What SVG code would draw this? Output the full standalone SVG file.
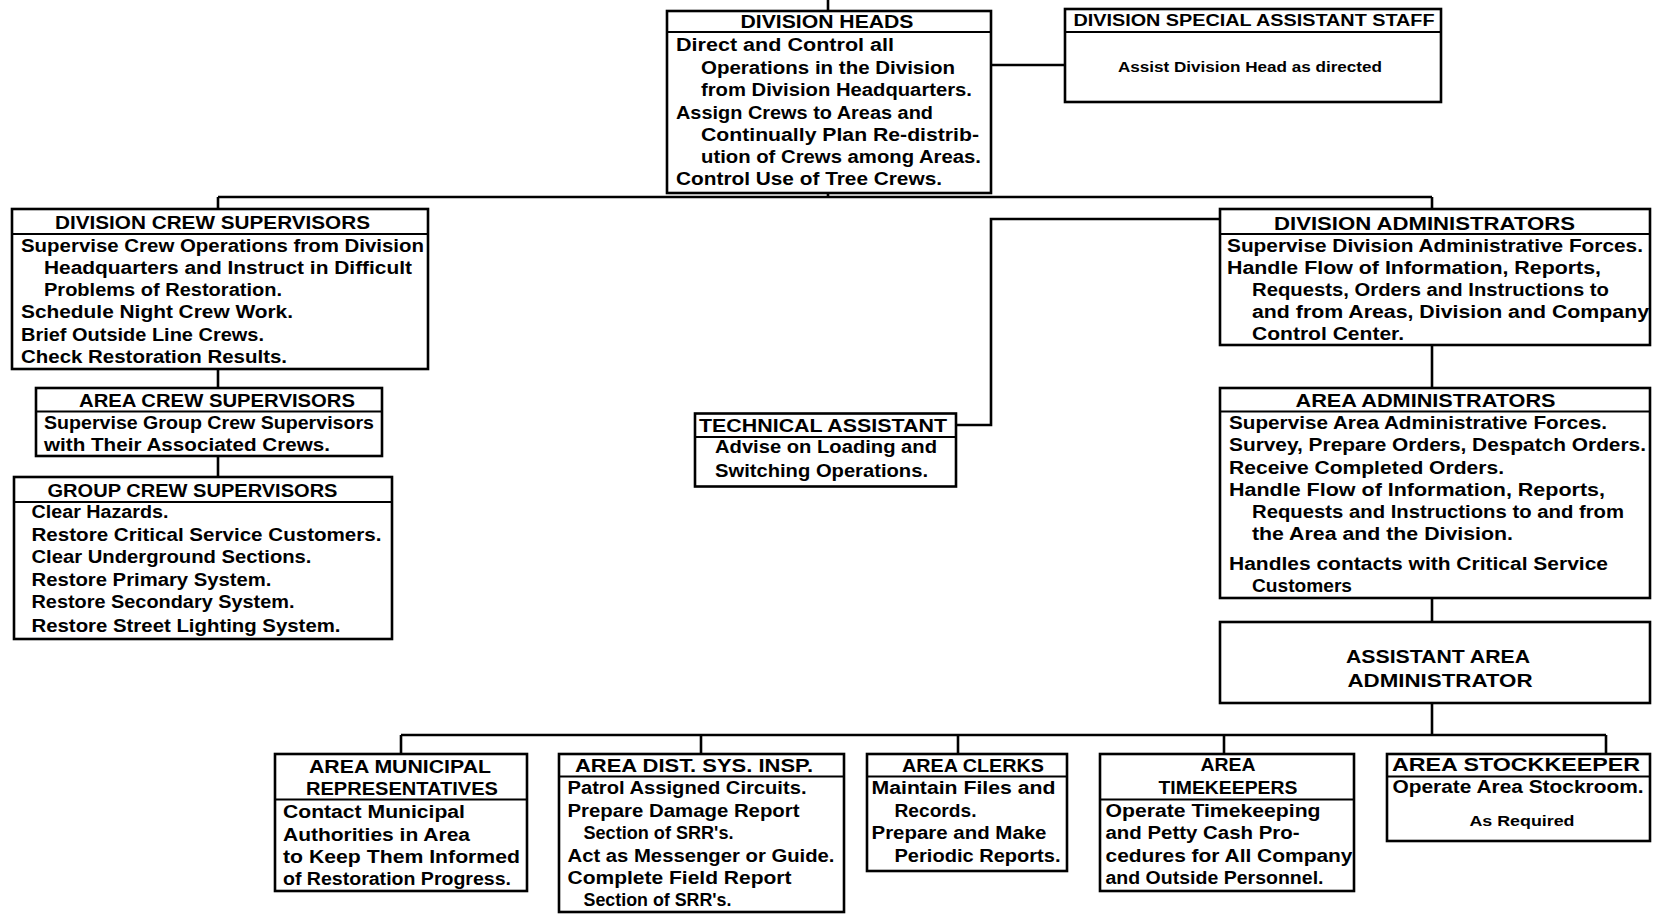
<svg xmlns="http://www.w3.org/2000/svg" width="1654" height="914" viewBox="0 0 1654 914">
  <style>
    .box { fill: #ffffff; stroke: #000000; stroke-width: 2.6; }
    .hd { stroke: #000000; stroke-width: 1.8; }
    .conn { fill: none; stroke: #000000; stroke-width: 2.6; }
    .t { font-family: "Liberation Sans", Arial, sans-serif; font-size: 18px; font-weight: bold; fill: #000000; }
    .ttl { font-family: "Liberation Sans", Arial, sans-serif; font-size: 18px; font-weight: bold; fill: #000000; text-anchor: middle; }
    .hv { font-family: "Liberation Sans", Arial, sans-serif; font-weight: bold; fill: #000000; text-anchor: middle; }
  </style>
  <rect width="1654" height="914" fill="#ffffff"/>

  <!-- connectors -->
  <g id="connectors">
    <path class="conn" d="M828,0 V11"/>
    <path class="conn" d="M991,65 H1065"/>
    <path class="conn" d="M828,193 V197"/>
    <path class="conn" d="M218,197 H1432"/>
    <path class="conn" d="M218,197 V209"/>
    <path class="conn" d="M1432,197 V209"/>
    <path class="conn" d="M218,369 V388"/>
    <path class="conn" d="M218,456 V477"/>
    <path class="conn" d="M1220,219 H991 V425 H956"/>
    <path class="conn" d="M1432,345 V388"/>
    <path class="conn" d="M1432,598 V622"/>
    <path class="conn" d="M1432,703 V735"/>
    <path class="conn" d="M401,735 H1606"/>
    <path class="conn" d="M401,735 V754"/>
    <path class="conn" d="M701,735 V754"/>
    <path class="conn" d="M958,735 V754"/>
    <path class="conn" d="M1224,735 V754"/>
    <path class="conn" d="M1606,735 V754"/>
  </g>

  <!-- division heads -->
  <g id="division-heads">
    <rect class="box" x="667" y="11" width="324" height="182"/>
    <line class="hd" x1="667" y1="32" x2="991" y2="32"/>
    <text class="ttl" x="827" y="28" textLength="173" lengthAdjust="spacingAndGlyphs">DIVISION HEADS</text>
    <text class="t" x="676" y="51" textLength="218" lengthAdjust="spacingAndGlyphs">Direct and Control all</text>
    <text class="t" x="701" y="73.5" textLength="254" lengthAdjust="spacingAndGlyphs">Operations in the Division</text>
    <text class="t" x="701" y="96" textLength="271" lengthAdjust="spacingAndGlyphs">from Division Headquarters.</text>
    <text class="t" x="676" y="119" textLength="257" lengthAdjust="spacingAndGlyphs">Assign Crews to Areas and</text>
    <text class="t" x="701" y="141" textLength="278" lengthAdjust="spacingAndGlyphs">Continually Plan Re-distrib-</text>
    <text class="t" x="701" y="163" textLength="280" lengthAdjust="spacingAndGlyphs">ution of Crews among Areas.</text>
    <text class="t" x="676" y="185" textLength="266" lengthAdjust="spacingAndGlyphs">Control Use of Tree Crews.</text>
  </g>

  <!-- division special assistant staff -->
  <g id="special-staff">
    <rect class="box" x="1065" y="9" width="376" height="93"/>
    <line class="hd" x1="1065" y1="32" x2="1441" y2="32"/>
    <text class="hv" x="1254" y="26" font-size="16" textLength="361" lengthAdjust="spacingAndGlyphs">DIVISION SPECIAL ASSISTANT STAFF</text>
    <text class="hv" x="1250" y="72" font-size="14" textLength="264" lengthAdjust="spacingAndGlyphs">Assist Division Head as directed</text>
  </g>

  <!-- division crew supervisors -->
  <g id="division-crew-supervisors">
    <rect class="box" x="12" y="209" width="416" height="160"/>
    <line class="hd" x1="12" y1="234" x2="428" y2="234"/>
    <text class="ttl" x="212.5" y="229" textLength="315" lengthAdjust="spacingAndGlyphs">DIVISION CREW SUPERVISORS</text>
    <text class="t" x="21" y="252" textLength="403" lengthAdjust="spacingAndGlyphs">Supervise Crew Operations from Division</text>
    <text class="t" x="44" y="274" textLength="368" lengthAdjust="spacingAndGlyphs">Headquarters and Instruct in Difficult</text>
    <text class="t" x="44" y="296" textLength="238" lengthAdjust="spacingAndGlyphs">Problems of Restoration.</text>
    <text class="t" x="21" y="318" textLength="272" lengthAdjust="spacingAndGlyphs">Schedule Night Crew Work.</text>
    <text class="t" x="21" y="340.5" textLength="243" lengthAdjust="spacingAndGlyphs">Brief Outside Line Crews.</text>
    <text class="t" x="21" y="362.5" textLength="266" lengthAdjust="spacingAndGlyphs">Check Restoration Results.</text>
  </g>

  <!-- area crew supervisors -->
  <g id="area-crew-supervisors">
    <rect class="box" x="36" y="388" width="346" height="68"/>
    <line class="hd" x1="36" y1="411.5" x2="382" y2="411.5"/>
    <text class="ttl" x="217" y="407" textLength="276" lengthAdjust="spacingAndGlyphs">AREA CREW SUPERVISORS</text>
    <text class="t" x="44" y="429" textLength="330" lengthAdjust="spacingAndGlyphs">Supervise Group Crew Supervisors</text>
    <text class="t" x="44" y="451" textLength="286" lengthAdjust="spacingAndGlyphs">with Their Associated Crews.</text>
  </g>

  <!-- group crew supervisors -->
  <g id="group-crew-supervisors">
    <rect class="box" x="14" y="477" width="378" height="162"/>
    <line class="hd" x1="14" y1="502" x2="392" y2="502"/>
    <text class="ttl" x="192.5" y="497" textLength="290" lengthAdjust="spacingAndGlyphs">GROUP CREW SUPERVISORS</text>
    <text class="t" x="31.5" y="518" textLength="137" lengthAdjust="spacingAndGlyphs">Clear Hazards.</text>
    <text class="t" x="31.5" y="541" textLength="350" lengthAdjust="spacingAndGlyphs">Restore Critical Service Customers.</text>
    <text class="t" x="31.5" y="563" textLength="280" lengthAdjust="spacingAndGlyphs">Clear Underground Sections.</text>
    <text class="t" x="31.5" y="586" textLength="240" lengthAdjust="spacingAndGlyphs">Restore Primary System.</text>
    <text class="t" x="31.5" y="608" textLength="263" lengthAdjust="spacingAndGlyphs">Restore Secondary System.</text>
    <text class="t" x="31.5" y="631.5" textLength="309" lengthAdjust="spacingAndGlyphs">Restore Street Lighting System.</text>
  </g>

  <!-- division administrators -->
  <g id="division-administrators">
    <rect class="box" x="1220" y="209" width="430" height="136"/>
    <line class="hd" x1="1220" y1="234" x2="1650" y2="234"/>
    <text class="ttl" x="1424.5" y="230" textLength="301" lengthAdjust="spacingAndGlyphs">DIVISION ADMINISTRATORS</text>
    <text class="t" x="1227" y="252" textLength="416" lengthAdjust="spacingAndGlyphs">Supervise Division Administrative Forces.</text>
    <text class="t" x="1227" y="274" textLength="374" lengthAdjust="spacingAndGlyphs">Handle Flow of Information, Reports,</text>
    <text class="t" x="1252" y="296" textLength="357" lengthAdjust="spacingAndGlyphs">Requests, Orders and Instructions to</text>
    <text class="t" x="1252" y="318" textLength="397" lengthAdjust="spacingAndGlyphs">and from Areas, Division and Company</text>
    <text class="t" x="1252" y="340" textLength="152" lengthAdjust="spacingAndGlyphs">Control Center.</text>
  </g>

  <!-- technical assistant -->
  <g id="technical-assistant">
    <rect class="box" x="695" y="413.5" width="261" height="73"/>
    <line class="hd" x1="695" y1="437" x2="956" y2="437"/>
    <text class="ttl" x="823" y="432" textLength="248" lengthAdjust="spacingAndGlyphs">TECHNICAL ASSISTANT</text>
    <text class="t" x="715" y="453" textLength="222" lengthAdjust="spacingAndGlyphs">Advise on Loading and</text>
    <text class="t" x="715" y="476.5" textLength="213" lengthAdjust="spacingAndGlyphs">Switching Operations.</text>
  </g>

  <!-- area administrators -->
  <g id="area-administrators">
    <rect class="box" x="1220" y="388" width="430" height="210"/>
    <line class="hd" x1="1220" y1="411.5" x2="1650" y2="411.5"/>
    <text class="ttl" x="1425.5" y="407" textLength="260" lengthAdjust="spacingAndGlyphs">AREA ADMINISTRATORS</text>
    <text class="t" x="1229" y="429" textLength="378" lengthAdjust="spacingAndGlyphs">Supervise Area Administrative Forces.</text>
    <text class="t" x="1229" y="451" textLength="417" lengthAdjust="spacingAndGlyphs">Survey, Prepare Orders, Despatch Orders.</text>
    <text class="t" x="1229" y="473.5" textLength="275" lengthAdjust="spacingAndGlyphs">Receive Completed Orders.</text>
    <text class="t" x="1229" y="495.5" textLength="376" lengthAdjust="spacingAndGlyphs">Handle Flow of Information, Reports,</text>
    <text class="t" x="1252" y="517.5" textLength="372" lengthAdjust="spacingAndGlyphs">Requests and Instructions to and from</text>
    <text class="t" x="1252" y="540" textLength="261" lengthAdjust="spacingAndGlyphs">the Area and the Division.</text>
    <text class="t" x="1229" y="569.5" textLength="379" lengthAdjust="spacingAndGlyphs">Handles contacts with Critical Service</text>
    <text class="t" x="1252" y="591.5" textLength="100" lengthAdjust="spacingAndGlyphs">Customers</text>
  </g>

  <!-- assistant area administrator -->
  <g id="assistant-area-administrator">
    <rect class="box" x="1220" y="622" width="430" height="81"/>
    <text class="hv" x="1438" y="662.5" font-size="18" textLength="184" lengthAdjust="spacingAndGlyphs">ASSISTANT AREA</text>
    <text class="hv" x="1440" y="687" font-size="18" textLength="185" lengthAdjust="spacingAndGlyphs">ADMINISTRATOR</text>
  </g>

  <!-- area municipal representatives -->
  <g id="area-municipal-representatives">
    <rect class="box" x="275" y="754" width="252" height="137"/>
    <line class="hd" x1="275" y1="799.5" x2="527" y2="799.5"/>
    <text class="ttl" x="400" y="773" textLength="182" lengthAdjust="spacingAndGlyphs">AREA MUNICIPAL</text>
    <text class="ttl" x="402" y="795" textLength="192" lengthAdjust="spacingAndGlyphs">REPRESENTATIVES</text>
    <text class="t" x="283" y="818" textLength="182" lengthAdjust="spacingAndGlyphs">Contact Municipal</text>
    <text class="t" x="283" y="840.5" textLength="187" lengthAdjust="spacingAndGlyphs">Authorities in Area</text>
    <text class="t" x="283" y="862.5" textLength="237" lengthAdjust="spacingAndGlyphs">to Keep Them Informed</text>
    <text class="t" x="283" y="884.5" textLength="228" lengthAdjust="spacingAndGlyphs">of Restoration Progress.</text>
  </g>

  <!-- area distribution system inspectors -->
  <g id="area-dist-sys-insp">
    <rect class="box" x="559" y="754" width="285" height="158"/>
    <line class="hd" x1="559" y1="776.5" x2="844" y2="776.5"/>
    <text class="ttl" x="694" y="772" textLength="238" lengthAdjust="spacingAndGlyphs">AREA DIST. SYS. INSP.</text>
    <text class="t" x="567.5" y="794" textLength="239" lengthAdjust="spacingAndGlyphs">Patrol Assigned Circuits.</text>
    <text class="t" x="567.5" y="817" textLength="232" lengthAdjust="spacingAndGlyphs">Prepare Damage Report</text>
    <text class="t" x="583.5" y="839" textLength="150" lengthAdjust="spacingAndGlyphs">Section of  SRR's.</text>
    <text class="t" x="567.5" y="861.5" textLength="267" lengthAdjust="spacingAndGlyphs">Act as Messenger or Guide.</text>
    <text class="t" x="567.5" y="883.5" textLength="224" lengthAdjust="spacingAndGlyphs">Complete Field Report</text>
    <text class="t" x="583.5" y="905.5" textLength="148" lengthAdjust="spacingAndGlyphs">Section of SRR's.</text>
  </g>

  <!-- area clerks -->
  <g id="area-clerks">
    <rect class="box" x="867" y="754" width="200" height="117"/>
    <line class="hd" x1="867" y1="776.5" x2="1067" y2="776.5"/>
    <text class="ttl" x="973" y="772" textLength="142" lengthAdjust="spacingAndGlyphs">AREA CLERKS</text>
    <text class="t" x="871.5" y="794" textLength="184" lengthAdjust="spacingAndGlyphs">Maintain Files and</text>
    <text class="t" x="894.5" y="817" textLength="82" lengthAdjust="spacingAndGlyphs">Records.</text>
    <text class="t" x="871.5" y="839" textLength="175" lengthAdjust="spacingAndGlyphs">Prepare and Make</text>
    <text class="t" x="894.5" y="861.5" textLength="166" lengthAdjust="spacingAndGlyphs">Periodic Reports.</text>
  </g>

  <!-- area timekeepers -->
  <g id="area-timekeepers">
    <rect class="box" x="1100" y="754" width="254" height="137"/>
    <line class="hd" x1="1100" y1="799.5" x2="1354" y2="799.5"/>
    <text class="ttl" x="1228" y="771" textLength="55" lengthAdjust="spacingAndGlyphs">AREA</text>
    <text class="ttl" x="1228" y="794" textLength="139" lengthAdjust="spacingAndGlyphs">TIMEKEEPERS</text>
    <text class="t" x="1105.5" y="817" textLength="215" lengthAdjust="spacingAndGlyphs">Operate Timekeeping</text>
    <text class="t" x="1105.5" y="839" textLength="194" lengthAdjust="spacingAndGlyphs">and Petty Cash Pro-</text>
    <text class="t" x="1105.5" y="861.5" textLength="247" lengthAdjust="spacingAndGlyphs">cedures for All Company</text>
    <text class="t" x="1105.5" y="883.5" textLength="218" lengthAdjust="spacingAndGlyphs">and Outside Personnel.</text>
  </g>

  <!-- area stockkeeper -->
  <g id="area-stockkeeper">
    <rect class="box" x="1387" y="754" width="263" height="87"/>
    <line class="hd" x1="1387" y1="776.5" x2="1650" y2="776.5"/>
    <text class="ttl" x="1516" y="771" textLength="248" lengthAdjust="spacingAndGlyphs">AREA STOCKKEEPER</text>
    <text class="t" x="1392.5" y="793" textLength="251" lengthAdjust="spacingAndGlyphs">Operate Area Stockroom.</text>
    <text class="hv" x="1522" y="826" font-size="14" textLength="105" lengthAdjust="spacingAndGlyphs">As Required</text>
  </g>
</svg>
